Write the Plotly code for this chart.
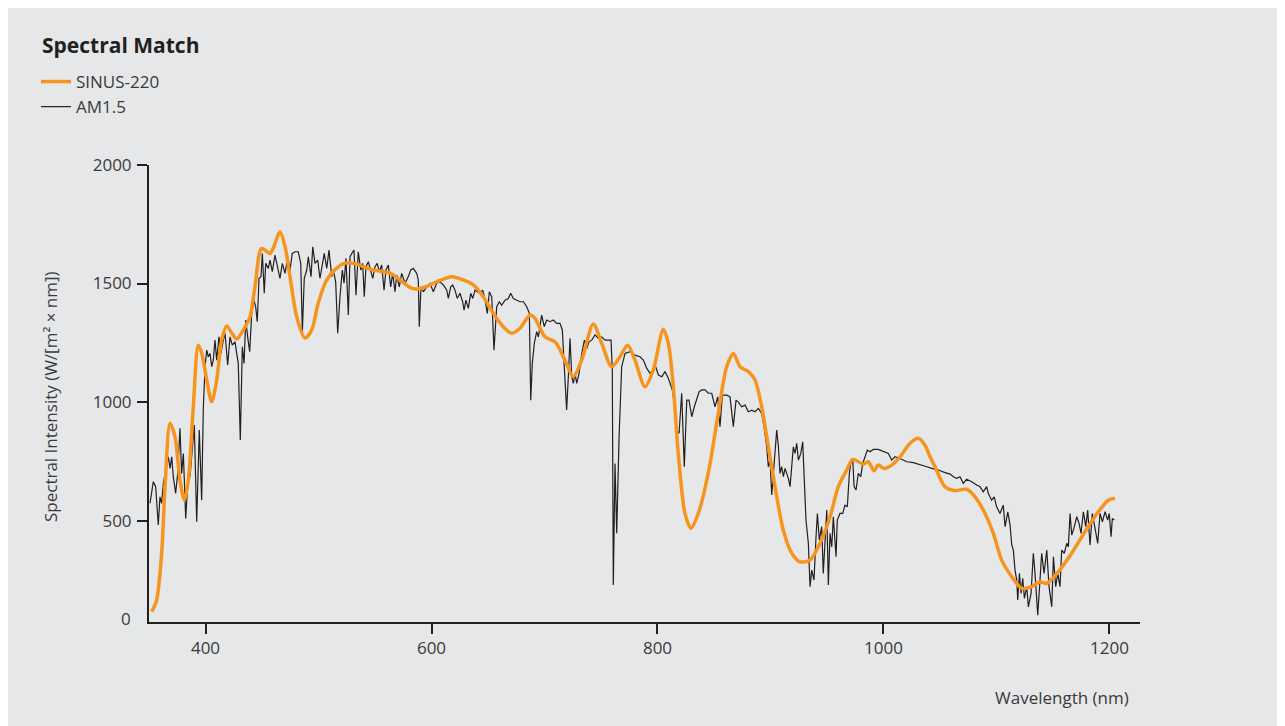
import plotly.graph_objects as go

# ---------------- data ----------------
sinus_nm = [352.4, 356.8, 361.2, 364.2, 368.6, 373.0, 377.4, 381.2, 384.8, 389.2,
            393.6, 396.6, 401.1, 405.5, 409.9, 414.3, 418.8, 423.2, 427.6, 433.5,
            439.4, 443.8, 449.7, 457.1, 460.0, 465.9, 470.4, 474.8, 480.7, 488.1,
            494.0, 499.8, 507.3, 516.1, 523.5, 530.8, 548.5, 563.3, 572.1, 582.5,
            591.3, 604.6, 617.9, 628.1, 637.0, 645.8, 654.7, 663.5, 671.0, 678.3,
            687.2, 691.6, 700.4, 709.3, 718.1, 725.5, 732.9, 743.2, 750.6, 759.5,
            766.8, 773.6, 780.1, 788.9, 796.3, 805.1, 809.6, 814.0, 818.4, 824.3,
            829.6, 836.1, 844.9, 853.8, 861.2, 867.1, 873.0, 880.4, 886.3, 892.2,
            898.1, 904.0, 911.3, 918.8, 926.1, 935.0, 943.8, 952.7, 960.0, 967.4,
            972.8, 982.1, 986.5, 991.6, 995.4, 1000.4, 1007.3, 1014.6, 1023.5, 1030.8,
            1036.7, 1041.2, 1045.6, 1054.4, 1063.3, 1073.6, 1081.0, 1089.8, 1097.2, 1104.6,
            1113.5, 1122.3, 1131.2, 1138.5, 1144.4, 1154.7, 1166.5, 1178.3, 1190.1, 1198.9,
            1204.9]
sinus_val = [115, 165, 363, 643, 911, 854, 671, 586, 671, 980,
             1240, 1207, 1093, 1001, 1093, 1261, 1321, 1291, 1266, 1304,
             1360, 1486, 1648, 1627, 1650, 1718, 1655, 1529, 1360, 1270,
             1304, 1418, 1515, 1565, 1586, 1585, 1557, 1544, 1515, 1480,
             1480, 1507, 1529, 1515, 1494, 1444, 1374, 1318, 1290, 1311,
             1367, 1353, 1275, 1254, 1177, 1107, 1177, 1329, 1248, 1149,
             1191, 1240, 1177, 1064, 1135, 1307, 1248, 1064, 783, 530,
             467, 530, 699, 952, 1149, 1205, 1149, 1128, 1093, 980,
             811, 643, 460, 362, 326, 333, 404, 516, 643, 713,
             758, 738, 748, 710, 734, 720, 734, 769, 826, 847,
             818, 769, 727, 643, 626, 632, 600, 530, 446, 333,
             263, 214, 221, 242, 235, 284, 362, 453, 537, 586,
             594]

am_nm = [350.9, 353.8, 355.9, 358.2, 359.7, 361.2, 362.7, 367.1, 368.6, 370.1,
         371.5, 373.6, 375.4, 377.4, 378.9, 380.4, 382.5, 384.8, 386.3, 387.8,
         390.1, 392.2, 394.5, 396.6, 398.1, 399.6, 401.1, 402.5, 404.0, 405.5,
         406.9, 408.4, 409.9, 411.9, 413.7, 415.8, 417.3, 419.6, 421.7, 423.7,
         426.1, 427.6, 429.0, 430.8, 432.6, 434.1, 435.6, 437.3, 439.1, 440.9,
         442.9, 444.4, 445.8, 447.4, 449.1, 450.3, 452.0, 453.3, 455.6, 457.1,
         459.1, 461.5, 463.9, 465.9, 468.0, 470.4, 472.8, 474.8, 476.8, 479.2,
         482.1, 484.3, 485.7, 487.4, 489.6, 491.0, 493.4, 494.9, 496.9, 499.3,
         501.3, 502.8, 505.1, 507.3, 509.3, 511.7, 513.1, 515.2, 517.0, 519.0,
         521.1, 522.6, 524.3, 526.4, 527.9, 530.3, 531.4, 533.2, 535.2, 537.4,
         539.1, 540.5, 542.0, 544.1, 546.2, 548.0, 550.0, 552.0, 553.8, 555.9,
         558.0, 559.7, 561.8, 563.9, 565.7, 567.7, 569.2, 571.5, 573.6, 576.6,
         579.5, 581.6, 583.9, 586.9, 588.3, 589.2, 590.7, 592.8, 595.8, 598.7,
         601.6, 604.6, 607.5, 610.5, 613.5, 614.9, 617.0, 618.8, 620.8, 622.8,
         625.2, 627.6, 628.8, 630.5, 632.6, 634.7, 636.5, 638.5, 640.5, 643.0,
         645.3, 647.4, 649.4, 651.2, 653.3, 655.3, 657.7, 660.0, 662.1, 665.1,
         668.0, 670.1, 672.4, 675.4, 678.3, 681.3, 684.3, 686.6, 687.8, 689.2,
         691.0, 693.1, 694.6, 697.5, 699.8, 702.0, 704.9, 707.8, 710.8, 713.7,
         715.8, 717.5, 719.6, 721.1, 722.6, 724.1, 725.5, 727.0, 728.5, 730.6,
         733.0, 735.3, 737.4, 739.4, 741.8, 744.7, 747.6, 750.6, 753.6, 756.5,
         758.9, 760.0, 760.9, 762.4, 763.9, 766.0, 768.3, 771.3, 775.7, 780.1,
         784.5, 787.5, 790.5, 793.4, 796.3, 798.4, 800.8, 803.8, 806.7, 809.0,
         811.1, 813.1, 814.9, 817.0, 819.1, 821.4, 823.7, 825.9, 827.9, 830.3,
         832.6, 834.7, 836.8, 839.1, 842.1, 845.0, 848.0, 850.9, 853.3, 855.3,
         857.4, 861.3, 864.2, 867.1, 869.5, 871.5, 874.5, 877.5, 880.4, 883.4,
         886.3, 889.3, 892.2, 894.3, 896.7, 898.1, 899.6, 901.1, 902.5, 904.0,
         905.5, 907.0, 908.4, 909.9, 911.4, 912.9, 914.4, 915.8, 917.3, 918.8,
         920.2, 921.7, 923.2, 924.7, 926.8, 928.5, 929.7, 931.4, 933.5, 935.0,
         936.5, 938.5, 940.3, 941.5, 943.2, 945.3, 946.7, 948.2, 949.8, 951.2,
         952.7, 954.2, 955.6, 958.0, 959.1, 961.5, 963.9, 965.9, 968.0, 969.8,
         971.0, 972.8, 974.0, 975.7, 977.7, 979.9, 981.6, 983.7, 985.7, 988.1,
         991.0, 995.4, 999.9, 1004.3, 1007.3, 1010.2, 1014.6, 1020.6, 1026.4, 1032.3,
         1038.3, 1042.7, 1048.5, 1054.5, 1058.9, 1061.8, 1064.8, 1067.7, 1070.6, 1073.6,
         1078.0, 1082.5, 1085.4, 1088.3, 1091.3, 1092.7, 1095.7, 1098.0, 1100.1, 1103.1,
         1106.0, 1107.6, 1110.0, 1112.0, 1113.5, 1114.9, 1116.4, 1117.9, 1118.8, 1120.3,
         1121.7, 1123.2, 1124.7, 1126.8, 1128.2, 1130.6, 1132.6, 1134.1, 1136.5, 1138.5,
         1140.0, 1142.1, 1144.5, 1146.5, 1148.9, 1150.4, 1152.4, 1154.2, 1156.2, 1157.7,
         1160.0, 1162.2, 1163.6, 1165.1, 1166.6, 1168.9, 1171.0, 1173.1, 1174.8, 1176.9,
         1179.0, 1180.7, 1182.8, 1184.8, 1187.2, 1189.6, 1191.6, 1193.7, 1196.1, 1198.4,
         1199.8, 1201.4, 1202.5, 1204.3]
am_val = [573, 664, 643, 481, 600, 573, 657, 769, 720, 769,
          685, 615, 699, 889, 699, 783, 509, 699, 685, 783,
          903, 495, 882, 586, 980, 1149, 1219, 1191, 1205, 1149,
          1177, 1261, 1177, 1275, 1205, 1261, 1290, 1156, 1275, 1240,
          1254, 1205, 1163, 840, 1233, 1163, 1346, 1275, 1212, 1374,
          1430, 1402, 1339, 1522, 1529, 1627, 1459, 1585, 1564, 1599,
          1550, 1620, 1571, 1522, 1585, 1543, 1613, 1557, 1627, 1634,
          1634, 1585, 1297, 1522, 1557, 1613, 1529, 1655, 1585, 1599,
          1522, 1571, 1627, 1564, 1641, 1529, 1557, 1507, 1290, 1444,
          1557, 1501, 1606, 1367, 1613, 1634, 1641, 1451, 1634, 1557,
          1585, 1444, 1571, 1592, 1557, 1522, 1571, 1585, 1550, 1578,
          1472, 1557, 1578, 1486, 1543, 1465, 1536, 1486, 1543, 1501,
          1529, 1557, 1564, 1543, 1515, 1318, 1486, 1465, 1486, 1501,
          1465, 1501, 1507, 1494, 1472, 1437, 1486, 1494, 1472, 1437,
          1459, 1423, 1388, 1430, 1395, 1459, 1437, 1472, 1465, 1459,
          1472, 1430, 1374, 1465, 1444, 1219, 1402, 1423, 1409, 1430,
          1437, 1459, 1437, 1430, 1423, 1423, 1402, 1374, 1008, 1163,
          1248, 1297, 1275, 1367, 1318, 1346, 1339, 1346, 1332, 1332,
          1304, 1149, 966, 1107, 1269, 1107, 1079, 1121, 1079, 1121,
          1205, 1261, 1226, 1254, 1261, 1283, 1269, 1275, 1261, 1261,
          1261, 1135, 228, 741, 446, 854, 1149, 1205, 1212, 1198,
          1191, 1177, 1142, 1121, 1135, 1149, 1114, 1107, 1128, 1107,
          1079, 1051, 994, 882, 868, 1037, 727, 1008, 1008, 938,
          980, 1008, 1043, 1051, 1051, 1037, 1037, 980, 1022, 896,
          1029, 1029, 1022, 896, 1008, 1001, 980, 987, 959, 966,
          959, 973, 952, 896, 811, 727, 755, 608, 685, 783,
          882, 811, 699, 727, 685, 720, 699, 678, 643, 741,
          811, 783, 826, 755, 783, 832, 671, 502, 404, 221,
          291, 249, 432, 530, 418, 474, 277, 432, 544, 228,
          446, 389, 516, 347, 502, 530, 530, 565, 558, 699,
          741, 755, 643, 629, 699, 685, 741, 769, 797, 790,
          800, 800, 790, 783, 755, 769, 762, 748, 744, 737,
          727, 720, 713, 702, 696, 685, 678, 685, 657, 674,
          664, 650, 643, 621, 643, 615, 586, 600, 558, 530,
          565, 474, 537, 481, 397, 375, 291, 249, 165, 277,
          193, 256, 172, 221, 136, 193, 362, 277, 101, 249,
          362, 277, 375, 221, 136, 347, 221, 277, 221, 375,
          362, 404, 389, 530, 439, 474, 516, 488, 446, 537,
          474, 544, 397, 530, 460, 404, 530, 495, 537, 502,
          530, 432, 509, 502]

x_tick_vals = [400, 600, 800, 1000, 1200]
y_tick_vals = [500, 1000, 1500, 2000]
y_tick_text = ["500", "1000", "1500", "2000"]
x_range = [350, 1227]
y_range = [72, 2000]

# ---------------- style ----------------
BG = "#e6e7e8"
INK = "#231f20"
TXT = "#3a3a3a"
ORANGE = "#f7941d"
FONT = "Open Sans, Noto Sans, sans-serif"
FS = 17

# the page body adds an 8 px offset, so the figure is sized to fit the window
OFF = 8
W, H = 1285 - OFF, 726 - OFF
L, T = 149 - OFF, 165 - OFF
R, B = W - (1140 - OFF), H - (622 - OFF)
pw, ph = W - L - R, H - T - B


def px_x(p):
    """page pixel x -> paper coordinate"""
    return (p - OFF - L) / pw


def px_y(p):
    """page pixel y -> paper coordinate"""
    return (H - B - (p - OFF)) / ph


fig = go.Figure()
fig.add_trace(go.Scatter(x=am_nm, y=am_val, mode="lines", name="AM1.5",
                         line=dict(color=INK, width=1.2)))
fig.add_trace(go.Scatter(x=sinus_nm, y=sinus_val, mode="lines", name="SINUS-220",
                         line=dict(color=ORANGE, width=3.5, shape="spline", smoothing=0.8)))

fig.update_layout(
    width=W, height=H,
    margin=dict(l=L, r=R, t=T, b=B, pad=0, autoexpand=False),
    paper_bgcolor=BG,
    plot_bgcolor=BG,
    font=dict(family=FONT, size=FS, color=TXT),
    showlegend=True,
    legend=dict(traceorder="reversed", xref="container", yref="container",
                x=28 / W, y=1 - 56 / H, xanchor="left", yanchor="top",
                bgcolor="rgba(0,0,0,0)", font=dict(size=FS, color=TXT),
                itemwidth=30, tracegroupgap=0),
    title=dict(text="<b>Spectral Match</b>", xref="container", yref="container",
               x=34 / W, y=1 - 38 / H, xanchor="left", yanchor="middle",
               font=dict(size=21, color=INK, family=FONT)),
    annotations=[
        dict(text="Wavelength (nm)", xref="paper", yref="paper",
             x=px_x(1131), y=px_y(697), xanchor="right", yanchor="middle",
             showarrow=False, font=dict(size=FS, color=TXT)),
        dict(text="0", xref="paper", yref="paper",
             x=px_x(133), y=px_y(618), xanchor="right", yanchor="middle",
             showarrow=False, font=dict(size=FS, color=TXT)),
        dict(text="Spectral Intensity (W/[m² × nm])", xref="paper", yref="paper",
             x=px_x(50), y=px_y(397), xanchor="center", yanchor="middle",
             textangle=-90, showarrow=False, font=dict(size=FS, color=TXT)),
    ],
)

fig.update_xaxes(range=x_range, tickvals=x_tick_vals, showgrid=False, zeroline=False,
                 showline=True, linecolor=INK, linewidth=2,
                 ticks="outside", ticklen=10, tickwidth=2, tickcolor=INK,
                 tickfont=dict(size=FS, color=TXT), ticklabelstandoff=0)
fig.update_yaxes(range=y_range, tickvals=y_tick_vals, ticktext=y_tick_text,
                 showgrid=False, zeroline=False,
                 showline=True, linecolor=INK, linewidth=2,
                 ticks="outside", ticklen=10, tickwidth=2, tickcolor=INK,
                 tickfont=dict(size=FS, color=TXT), ticklabelstandoff=2)

fig.write_html("out.html")
